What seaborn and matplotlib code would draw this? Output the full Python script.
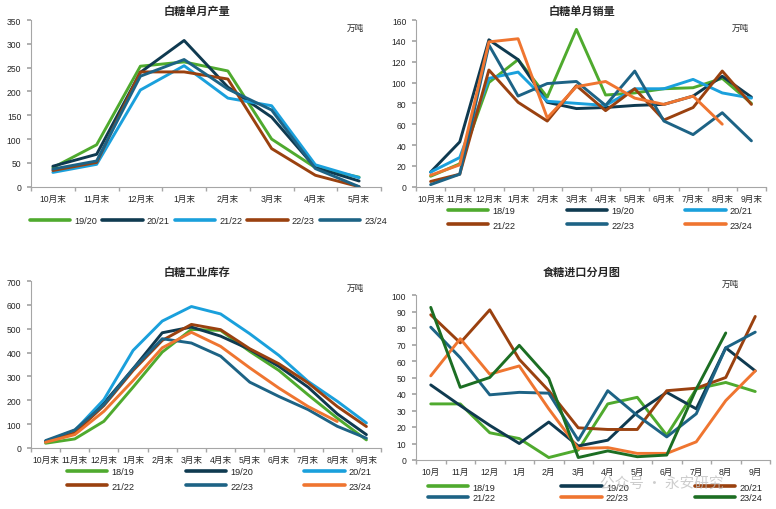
import numpy as np
import pandas as pd
import matplotlib
matplotlib.use("Agg")
import matplotlib.pyplot as plt
import seaborn as sns

sns.set_theme(style="white")
plt.rcParams['font.family'] = ['Liberation Sans', 'Noto Sans CJK SC', 'DejaVu Sans']

# ---------------- data ----------------
prod_months = ["10月末", "11月末", "12月末", "1月末", "2月末", "3月末", "4月末", "5月末"]
prod_seasons = ["19/20", "20/21", "21/22", "22/23", "23/24"]
prod_1920 = [40, 88, 253, 262, 243, 100, 40, 20]
prod_2021 = [43, 68, 240, 307, 209, 146, 40, 12]
prod_2122 = [30, 47, 203, 254, 186, 170, 46, 19]
prod_2223 = [34, 51, 241, 241, 226, 80, 24, 0]
prod_2324 = [37, 54, 232, 267, 205, 161, 38, 0]

sale_months = ["10月末", "11月末", "12月末", "1月末", "2月末", "3月末", "4月末", "5月末",
               "6月末", "7月末", "8月末", "9月末"]
sale_seasons = ["18/19", "19/20", "20/21", "21/22", "22/23", "23/24"]
sale_1819 = [10, 22, 100, 122, 86, 151, 88, 90, 94, 95, 104, 80]
sale_1920 = [14, 43, 141, 122, 81, 75, 76, 78, 79, 87, 106, 86]
sale_2021 = [14, 28, 104, 110, 82, 80, 78, 94, 94, 103, 90, 85]
sale_2122 = [5, 12, 112, 81, 63, 97, 73, 94, 64, 76, 111, 79]
sale_2223 = [2, 12, 136, 87, 99, 101, 78, 111, 63, 50, 71, 44]
sale_2324 = [11, 21, 139, 142, 66, 96, 101, 85, 79, 87, 60, np.nan]

inv_months = sale_months
inv_seasons = ["18/19", "19/20", "20/21", "21/22", "22/23", "23/24"]
inv_1819 = [20, 38, 112, 255, 402, 497, 493, 405, 325, 223, 125, 34]
inv_1920 = [28, 69, 188, 332, 483, 507, 469, 413, 342, 255, 143, 56]
inv_2021 = [28, 73, 203, 409, 532, 593, 562, 479, 388, 279, 196, 105]
inv_2122 = [27, 63, 178, 325, 451, 518, 496, 416, 353, 273, 174, 90]
inv_2223 = [31, 76, 182, 332, 458, 440, 385, 276, 216, 161, 91, 41]
inv_2324 = [24, 56, 154, 283, 420, 485, 426, 336, 251, 174, 111, np.nan]

imp_months = ["10月", "11月", "12月", "1月", "2月", "3月", "4月", "5月", "6月", "7月", "8月", "9月"]
imp_seasons = ["18/19", "19/20", "20/21", "21/22", "22/23", "23/24"]
imp_1819 = [34, 34, 16.5, 13, 1.5, 6, 34, 38, 15, 43, 47, 41.5]
imp_1920 = [45.5, 33, 21, 10, 23, 8.5, 12, 29, 41, 31, 68, 54]
imp_2021 = [88, 71, 91, 61, 42, 19.5, 18.5, 18.5, 42, 43.5, 50, 87]
imp_2122 = [80.5, 62, 39.5, 41, 40.5, 12, 42, 27, 14, 28, 68, 77.5]
imp_2223 = [51, 73.5, 52, 57, 31, 7, 7.5, 4, 4, 11, 36, 54]
imp_2324 = [92.5, 44, 50, 69.5, 49.5, 1.5, 5.5, 2, 3, 43, 77, np.nan]

# colours
GREEN = "#4FAA2E"
NAVY = "#0F3A50"
LBLUE = "#1AA0DC"
BROWN = "#9A410F"
TEAL = "#1D6385"
ORANGE = "#EF7530"
DGREEN = "#1C6E23"


def long_df(months, seasons, series):
    rows = []
    for s, vals in zip(seasons, series):
        for i, v in enumerate(vals):
            rows.append({"idx": i, "month": months[i], "season": s, "value": v})
    return pd.DataFrame(rows).dropna()


W, H = 776, 510
fig = plt.figure(figsize=(W / 100, H / 100), dpi=100)


def add_ax(l, r, t, b):
    return fig.add_axes([l / W, 1 - b / H, (r - l) / W, (b - t) / H])


TICK_FS = 6.2
SPINE_C = "#A6A6A6"


def style_ax(ax, months, ymax, ystep):
    n = len(months)
    ax.set_xlim(-0.5, n - 0.5)
    ax.set_ylim(0, ymax)
    ax.set_yticks(np.arange(0, ymax + 0.1, ystep))
    ax.set_yticklabels([f"{int(v)}" for v in np.arange(0, ymax + 0.1, ystep)], fontsize=TICK_FS)
    ax.set_xticks(np.arange(n))
    ax.set_xticklabels(months, fontsize=TICK_FS)
    ax.set_xticks(np.arange(-0.5, n, 1.0), minor=True)
    ax.tick_params(axis="x", which="major", length=0, pad=5)
    ax.tick_params(axis="x", which="minor", length=3, color=SPINE_C, direction="out", bottom=True)
    ax.tick_params(axis="y", which="major", length=3, color=SPINE_C, direction="out", left=True, pad=4)
    for s in ["top", "right"]:
        ax.spines[s].set_visible(False)
    for s in ["left", "bottom"]:
        ax.spines[s].set_color(SPINE_C)
        ax.spines[s].set_linewidth(0.8)
    ax.set_xlabel("")
    ax.set_ylabel("")
    ax.grid(False)


def draw(ax, months, seasons, series, palette):
    df = long_df(months, seasons, series)
    sns.lineplot(data=df, x="idx", y="value", hue="season", hue_order=seasons,
                 palette=palette, linewidth=2.1, ax=ax, legend=True, sort=False)


def make_legend(ax, order, ncol, anchor, colsp, labsp, hl=4.4):
    h, l = ax.get_legend_handles_labels()
    h = [h[i] for i in order]
    l = [l[i] for i in order]
    for hh in h:
        hh.set_linewidth(2.6)
        hh.set_solid_capstyle("round")
    ax.legend(h, l, ncol=ncol, loc="center left", bbox_to_anchor=anchor,
              bbox_transform=fig.transFigure, frameon=False, fontsize=TICK_FS + 0.4,
              handlelength=hl, handletextpad=0.45, columnspacing=colsp, labelspacing=labsp,
              borderpad=0, borderaxespad=0)


TITLE_KW = dict(fontsize=8, fontweight="bold", ha="center", va="center",
                family=["Noto Sans CJK SC", "DejaVu Sans"])
UNIT_KW = dict(fontsize=6.2, ha="center", va="center", family=["Noto Sans CJK SC", "DejaVu Sans"])

# panel 1
ax1 = add_ax(31, 381, 21, 187.7)
draw(ax1, prod_months, prod_seasons, [prod_1920, prod_2021, prod_2122, prod_2223, prod_2324],
     [GREEN, NAVY, LBLUE, BROWN, TEAL])
style_ax(ax1, prod_months, 350, 50)
make_legend(ax1, [0, 1, 2, 3, 4], 5, (30 / W, 1 - 222 / H), 0.55, 0.5)
fig.text(197 / W, 1 - 11 / H, "白糖单月产量", **TITLE_KW)
fig.text(355 / W, 1 - 28 / H, "万吨", **UNIT_KW)

# panel 2
ax2 = add_ax(416, 766, 21, 187.7)
draw(ax2, sale_months, sale_seasons, [sale_1819, sale_1920, sale_2021, sale_2122, sale_2223, sale_2324],
     [GREEN, NAVY, LBLUE, BROWN, TEAL, ORANGE])
style_ax(ax2, sale_months, 160, 20)
make_legend(ax2, [0, 3, 1, 4, 2, 5], 3, (448 / W, 1 - 219 / H), 5.6, 0.55)
fig.text(582 / W, 1 - 11 / H, "白糖单月销量", **TITLE_KW)
fig.text(740 / W, 1 - 28 / H, "万吨", **UNIT_KW)

# panel 3
ax3 = add_ax(31, 381, 282, 449)
draw(ax3, inv_months, inv_seasons, [inv_1819, inv_1920, inv_2021, inv_2122, inv_2223, inv_2324],
     [GREEN, NAVY, LBLUE, BROWN, TEAL, ORANGE])
style_ax(ax3, inv_months, 700, 100)
make_legend(ax3, [0, 3, 1, 4, 2, 5], 3, (67 / W, 1 - 480 / H), 5.6, 0.55)
fig.text(197 / W, 1 - 272 / H, "白糖工业库存", **TITLE_KW)
fig.text(355 / W, 1 - 288 / H, "万吨", **UNIT_KW)

# panel 4
ax4 = add_ax(416, 770, 296, 461)
draw(ax4, imp_months, imp_seasons, [imp_1819, imp_1920, imp_2021, imp_2122, imp_2223, imp_2324],
     [GREEN, NAVY, BROWN, TEAL, ORANGE, DGREEN])
style_ax(ax4, imp_months, 100, 10)
make_legend(ax4, [0, 3, 1, 4, 2, 5], 3, (428 / W, 1 - 493.5 / H), 7.2, 0.18)
fig.text(582 / W, 1 - 272 / H, "食糖进口分月图", **TITLE_KW)
fig.text(730 / W, 1 - 284 / H, "万吨", **UNIT_KW)

# watermark
fig.text(662 / W, 1 - 485 / H, "公众号 · 永安研究", fontsize=10.5, color="#BDBDBD", alpha=0.75,
         ha="center", va="center", family=["Noto Sans CJK SC", "DejaVu Sans"], zorder=10)

fig.savefig("out.png", dpi=100)
